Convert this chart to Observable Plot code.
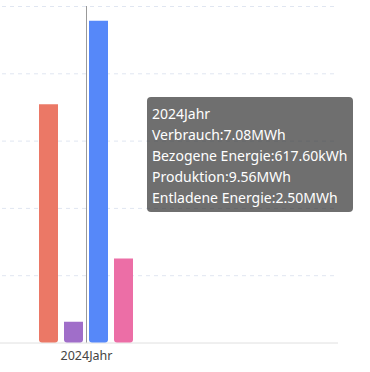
<!DOCTYPE html>
<html>
<head>
<meta charset="utf-8">
<script src="https://cdn.jsdelivr.net/npm/d3@7"></script>
<script src="https://cdn.jsdelivr.net/npm/@observablehq/plot@0.6"></script>
<style>
  html, body { margin: 0; padding: 0; background: #fff; overflow: hidden; }
  #wrap { position: relative; width: 370px; height: 372px; }
  #tip {
    position: absolute; left: 147px; top: 97px;
    background: rgba(50,50,50,0.7); color: #fff;
    border-radius: 4px; padding: 6px 6px 4px 5px;
    font-family: "Noto Sans", sans-serif; font-size: 14px; line-height: 21px;
    white-space: nowrap;
  }
</style>
</head>
<body>
<div id="wrap"><div id="tip"></div></div>
<script>
const years = ["2024Jahr"];
const series = ["Verbrauch", "Bezogene Energie", "Produktion", "Entladene Energie"];
const values = [7.08, 0.6176, 9.56, 2.50]; // MWh
const colors = ["#eb7866", "#a06ec9", "#5688f9", "#ec6ea6"];
const gridTicks = [2, 4, 6, 8, 10];

const data = series.map((s, i) => ({year: years[0], series: s, value: values[i]}));
const fmt = v => v < 1 ? (v * 1000).toFixed(2) + "kWh" : v.toFixed(2) + "MWh";

const plot = Plot.plot({
  width: 370,
  height: 372,
  marginTop: 6,
  marginBottom: 29.5,
  marginLeft: -166,
  marginRight: 32,
  style: {fontFamily: "'Noto Sans', sans-serif", background: "transparent", overflow: "visible"},
  fx: {domain: years, padding: 0, axis: "bottom", tickSize: 0, tickPadding: 8, label: null},
  x: {domain: series, paddingInner: 6 / 26, paddingOuter: 7.8077, axis: null},
  y: {domain: [0, 10], axis: null},
  color: {domain: series, range: colors},
  marks: [
    Plot.gridY(gridTicks, {stroke: "#e0e6f1", strokeOpacity: 1, strokeDasharray: "4,4"}),
    Plot.ruleY([0], {stroke: "#e0e0e0", strokeWidth: 1}),
    Plot.barY(data, {fx: "year", x: "series", y: "value", fill: "series", ry2: 3}),
    Plot.ruleX(years, {fx: d => d, x: null, y1: 0, y2: 10, stroke: "#999", strokeWidth: 1})
  ]
});
plot.style.fontSize = "12.5px";
plot.querySelectorAll("g[aria-label^='fx-axis'] text").forEach(t => t.setAttribute("fill", "#444"));
document.getElementById("wrap").prepend(plot);

const tip = document.getElementById("tip");
const lines = [years[0]].concat(series.map((s, i) => s + ":" + fmt(values[i])));
tip.innerHTML = lines.map(l => "<div>" + l + "</div>").join("");
</script>
</body>
</html>
